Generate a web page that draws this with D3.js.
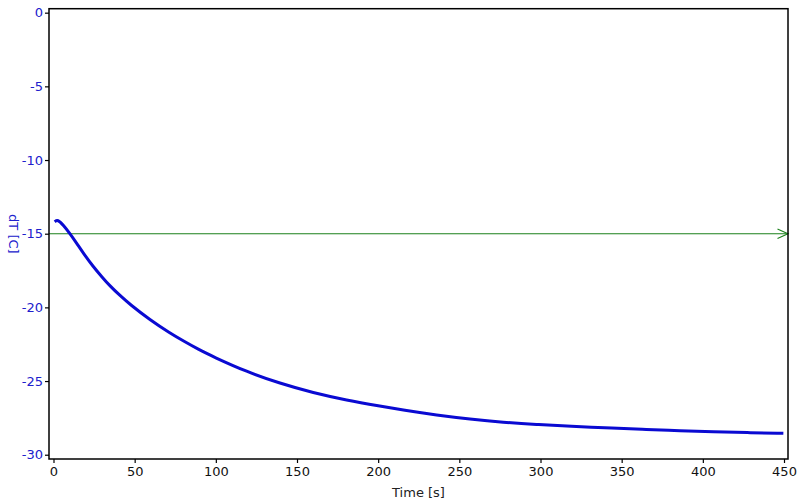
<!DOCTYPE html>
<html>
<head>
<meta charset="utf-8">
<script src="https://cdn.jsdelivr.net/npm/d3@7/dist/d3.min.js"></script>
<style>
html,body{margin:0;padding:0;background:#fff;}
svg{display:block;}
</style>
</head>
<body>
<svg id="chart" width="800" height="504"></svg>
<script>
const time = [0.7, 2.6, 6, 10.2, 14.3, 18.4, 24.5, 30, 34.8, 41, 47.1, 59.4, 71.8, 80, 89.2, 98.4, 119, 139.5, 160, 180.6, 201, 215.5, 236, 256.6, 277, 297.7, 318, 345, 365, 386, 406.5, 427, 449.6];
const dT = [-14.19, -14.03, -14.41, -15.0, -15.65, -16.33, -17.24, -17.95, -18.55, -19.2, -19.8, -20.85, -21.75, -22.28, -22.85, -23.35, -24.37, -25.16, -25.8, -26.3, -26.7, -26.97, -27.31, -27.58, -27.8, -27.95, -28.07, -28.2, -28.29, -28.37, -28.44, -28.5, -28.55];
const xTicks = [0, 50, 100, 150, 200, 250, 300, 350, 400, 450];
const yTicks = [0, -5, -10, -15, -20, -25, -30];
const threshold = -15;
const xLabel = "Time [s]";
const yLabel = "dT [C]";

const L = 49, R = 788, T = 8.7, B = 459;
const svg = d3.select("#chart");
const x = d3.scaleLinear().domain([-2.77, 452.46]).range([L, R]);
const y = d3.scaleLinear().domain([0.27, -30.29]).range([T, B]);

const font = "DejaVu Sans, sans-serif";

// y axis
const yAxis = svg.append("g").attr("transform", `translate(${L},0)`)
  .call(d3.axisLeft(y).tickValues(yTicks).tickSize(4).tickPadding(2).tickFormat(d => d === 0 ? "0" : "-" + Math.abs(d)));
yAxis.select(".domain").remove();
yAxis.selectAll("line").attr("stroke", "#000").attr("stroke-width", 1.2);
yAxis.selectAll("text").attr("fill", "#2020cc").attr("font-family", font).attr("font-size", 13);

// x axis
const xAxis = svg.append("g").attr("transform", `translate(0,${B})`)
  .call(d3.axisBottom(x).tickValues(xTicks).tickSize(4).tickPadding(4).tickFormat(d3.format("d")));
xAxis.select(".domain").remove();
xAxis.selectAll("line").attr("stroke", "#000").attr("stroke-width", 1.2);
xAxis.selectAll("text").attr("fill", "#111").attr("font-family", font).attr("font-size", 13);

// threshold line with open arrow
const gy = y(threshold);
svg.append("line").attr("x1", L).attr("x2", R).attr("y1", gy).attr("y2", gy)
  .attr("stroke", "#1b801b").attr("stroke-width", 1.1);
svg.append("path")
  .attr("d", `M${R - 10.5},${gy - 4.8} L${R},${gy} L${R - 10.5},${gy + 4.8}`)
  .attr("fill", "none").attr("stroke", "#1b801b").attr("stroke-width", 1.1);

// data line
const pts = time.map((t, i) => [t, dT[i]]);
svg.append("path")
  .datum(pts)
  .attr("d", d3.line().x(d => x(d[0])).y(d => y(d[1])).curve(d3.curveBasis))
  .attr("fill", "none").attr("stroke", "#0a0ad2").attr("stroke-width", 3)
  .attr("stroke-linejoin", "round");

// frame
svg.append("rect").attr("x", L).attr("y", T).attr("width", R - L).attr("height", B - T)
  .attr("fill", "none").attr("stroke", "#000").attr("stroke-width", 1.5);

// labels
svg.append("text").attr("x", (L + R) / 2).attr("y", 497).attr("text-anchor", "middle")
  .attr("font-family", font).attr("font-size", 13).attr("fill", "#222").text(xLabel);
svg.append("text").attr("transform", `translate(8.5,${(T + B) / 2}) rotate(90)`)
  .attr("text-anchor", "middle").attr("font-family", font).attr("font-size", 13)
  .attr("fill", "#2020cc").text(yLabel);
</script>
</body>
</html>
